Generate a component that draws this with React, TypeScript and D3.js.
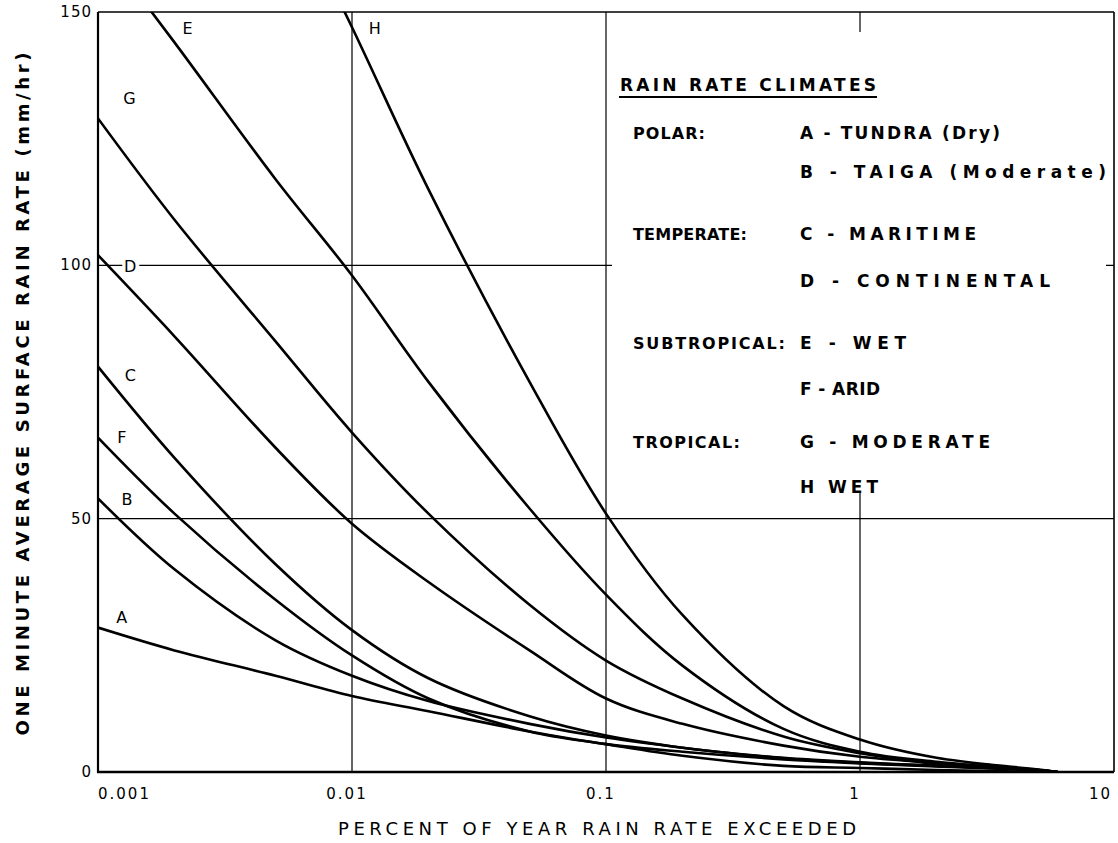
import React from "react";
import * as d3 from "d3";

// ---------- data ----------
const PERCENT = [0.001, 0.002, 0.005, 0.01, 0.02, 0.05, 0.1, 0.2, 0.5, 1, 2, 5, 6];
const RATE_A = [28.5, 24, 19, 15, 12, 8, 5.5, 4, 2.5, 1.7, 1.1, 0.3, 0];
const RATE_B = [54, 40, 26, 19, 14, 9.5, 6.8, 4.8, 2.7, 1.8, 1.2, 0.4, 0];
const RATE_C = [80, 62, 41, 28, 18.5, 11, 7.2, 4.8, 2.8, 1.9, 1.2, 0.4, 0];
const RATE_D = [102, 86, 64, 49, 37.5, 24, 14.5, 9.5, 5.2, 3.0, 1.8, 0.4, 0];
const RATE_E = [164, 144, 117, 98, 77, 52, 35, 21, 8.5, 4.0, 2.0, 0.4, 0];
const RATE_F = [66, 51, 34, 23, 14.5, 8, 5.5, 3.2, 1.2, 0.8, 0.4, 0, 0];
const RATE_G = [129, 109, 85, 67, 51, 33, 22, 14.5, 7.0, 3.7, 1.6, 0.4, 0];
const RATE_H = [251, 220, 178, 147, 115, 77, 51, 31, 13, 6.4, 2.8, 0.5, 0];

const CURVE_IDS = ["A", "B", "C", "D", "E", "F", "G", "H"];
const CURVE_RATES = [RATE_A, RATE_B, RATE_C, RATE_D, RATE_E, RATE_F, RATE_G, RATE_H];

const X_TICKS = [0.001, 0.01, 0.1, 1, 10];
const X_TICK_LABELS = ["0.001", "0.01", "0.1", "1", "10"];
const Y_TICKS = [0, 50, 100, 150];
const X_GRID = [0.01, 0.1, 1];
const Y_GRID = [50, 100];

const X_TITLE = "PERCENT OF YEAR RAIN RATE EXCEEDED";
const Y_TITLE = "ONE MINUTE AVERAGE SURFACE RAIN RATE (mm/hr)";

const LEGEND_TITLE = "RAIN RATE CLIMATES";
const LEGEND_GROUPS = ["POLAR:", "TEMPERATE:", "SUBTROPICAL:", "TROPICAL:"];
const LEGEND_ITEMS = [
  "A - TUNDRA (Dry)",
  "B - TAIGA (Moderate)",
  "C - MARITIME",
  "D - CONTINENTAL",
  "E - WET",
  "F - ARID",
  "G - MODERATE",
  "H  WET",
];

// label anchor positions for the curve letters (percent, rate)
const LABEL_PCT = [0.00124, 0.0013, 0.00134, 0.00134, 0.00225, 0.00124, 0.00133, 0.0123];
const LABEL_RATE = [30.4, 53.7, 78.3, 99.7, 146.7, 66, 133, 146.7];

// ---------- layout ----------
const W = 1118;
const H = 843;
const LEFT = 98;
const RIGHT = 1114;
const TOP = 12;
const BOTTOM = 772;

const FONT = "'DejaVu Sans', 'Liberation Sans', sans-serif";

export default function App() {
  const x = d3.scaleLog().domain([0.001, 10]).range([LEFT, RIGHT]);
  const y = d3.scaleLinear().domain([0, 150]).range([BOTTOM, TOP]);

  const line = d3
    .line<[number, number]>()
    .x((d) => x(d[0]))
    .y((d) => y(d[1]))
    .curve(d3.curveCatmullRom.alpha(0.5));

  const series = CURVE_IDS.map((id, i) => ({
    id,
    points: PERCENT.map((p, j) => [p, CURVE_RATES[i][j]] as [number, number]),
  }));

  // legend geometry
  const legX0 = 612;
  const legX1 = 1106;
  const legY0 = 32;
  const legY1 = 492;
  const groupX = 633;
  const itemX = 800;
  const itemRows = [133, 172, 234, 281, 343, 389, 442, 487];
  const groupRows = [133, 234, 343, 442];
  const itemLen = [200, 306, 176, 250, 106, 80, 190, 78];
  const groupLen = [72, 114, 152, 107];

  return (
    <div style={{ position: "absolute", left: 0, top: 0, width: W, height: H, background: "#fff" }}>
      <svg width={W} height={H} viewBox={`0 0 ${W} ${H}`} style={{ display: "block" }}>
        <defs>
          <clipPath id="plotClip">
            <rect x={LEFT} y={TOP} width={RIGHT - LEFT} height={BOTTOM - TOP} />
          </clipPath>
        </defs>
        <rect x={0} y={0} width={W} height={H} fill="#fff" />

        {/* grid */}
        {X_GRID.map((v) => (
          <line key={"gx" + v} x1={x(v)} x2={x(v)} y1={TOP} y2={BOTTOM} stroke="#000" strokeWidth={1.2} />
        ))}
        {Y_GRID.map((v) => (
          <line key={"gy" + v} x1={LEFT} x2={RIGHT} y1={y(v)} y2={y(v)} stroke="#000" strokeWidth={1.2} />
        ))}

        {/* legend box (white, hides grid behind it) */}
        <rect x={legX0} y={legY0} width={legX1 - legX0} height={legY1 - legY0} fill="#fff" />

        {/* curves */}
        <g clipPath="url(#plotClip)">
          {series.map((s) => (
            <path
              key={s.id}
              d={line(s.points) || ""}
              fill="none"
              stroke="#000"
              strokeWidth={2.6}
              strokeLinejoin="round"
            />
          ))}
        </g>

        {/* frame */}
        <line x1={LEFT} x2={RIGHT} y1={TOP} y2={TOP} stroke="#000" strokeWidth={1.6} />
        <line x1={RIGHT} x2={RIGHT} y1={TOP} y2={BOTTOM} stroke="#000" strokeWidth={1.6} />
        <line x1={LEFT} x2={LEFT} y1={TOP} y2={BOTTOM + 1} stroke="#000" strokeWidth={2.2} />
        <line x1={LEFT - 1} x2={RIGHT} y1={BOTTOM} y2={BOTTOM} stroke="#000" strokeWidth={2.4} />

        {/* curve letters */}
        {CURVE_IDS.map((id, i) => {
          const cx = x(LABEL_PCT[i]);
          const cy = y(LABEL_RATE[i]);
          return (
            <g key={"lab" + id}>
              {id === "D" && <rect x={cx - 8} y={cy - 9} width={17} height={18} fill="#fff" />}
              <text
                x={cx}
                y={cy}
                textAnchor="middle"
                dominantBaseline="central"
                fontFamily={FONT}
                fontSize={16}
                fill="#000"
              >
                {id}
              </text>
            </g>
          );
        })}

        {/* y tick labels */}
        {Y_TICKS.map((v) => (
          <text
            key={"yt" + v}
            x={LEFT - 6}
            y={y(v)}
            textAnchor="end"
            dominantBaseline="central"
            fontFamily={FONT}
            fontSize={15}
            letterSpacing={1}
            fill="#000"
          >
            {v}
          </text>
        ))}

        {/* x tick labels */}
        {X_TICKS.map((v, i) => {
          const anchor = i === 0 ? "start" : i === X_TICKS.length - 1 ? "end" : "middle";
          const dx = i === 0 ? 0 : i === X_TICKS.length - 1 ? -2 : -5;
          return (
            <text
              key={"xt" + v}
              x={x(v) + dx}
              y={BOTTOM + 22}
              textAnchor={anchor}
              dominantBaseline="central"
              fontFamily={FONT}
              fontSize={15}
              letterSpacing={2}
              fill="#000"
            >
              {X_TICK_LABELS[i]}
            </text>
          );
        })}

        {/* axis titles */}
        <text
          x={597}
          y={828}
          textAnchor="middle"
          dominantBaseline="central"
          fontFamily={FONT}
          fontSize={18}
          textLength={518}
          lengthAdjust="spacing"
          fill="#000"
        >
          {X_TITLE}
        </text>
        <text
          transform={`translate(22, 394) rotate(-90)`}
          textAnchor="middle"
          dominantBaseline="central"
          fontFamily={FONT}
          fontSize={18}
          fontWeight="bold"
          textLength={683}
          lengthAdjust="spacing"
          fill="#000"
        >
          {Y_TITLE}
        </text>

        {/* legend */}
        <text
          x={620}
          y={85}
          dominantBaseline="central"
          fontFamily={FONT}
          fontSize={17}
          fontWeight="bold"
          textLength={256}
          lengthAdjust="spacing"
          fill="#000"
        >
          {LEGEND_TITLE}
        </text>
        <line x1={619} x2={877} y1={97} y2={97} stroke="#000" strokeWidth={1.8} />
        {LEGEND_GROUPS.map((g, i) => (
          <text
            key={"lg" + g}
            x={groupX}
            y={groupRows[i]}
            dominantBaseline="central"
            fontFamily={FONT}
            fontSize={16}
            fontWeight="bold"
            textLength={groupLen[i]}
            lengthAdjust="spacing"
            fill="#000"
          >
            {g}
          </text>
        ))}
        {LEGEND_ITEMS.map((t, i) => (
          <text
            key={"li" + i}
            x={itemX}
            y={itemRows[i]}
            dominantBaseline="central"
            fontFamily={FONT}
            fontSize={17}
            fontWeight="bold"
            textLength={itemLen[i]}
            lengthAdjust="spacing"
            fill="#000"
          >
            {t}
          </text>
        ))}
      </svg>
    </div>
  );
}
